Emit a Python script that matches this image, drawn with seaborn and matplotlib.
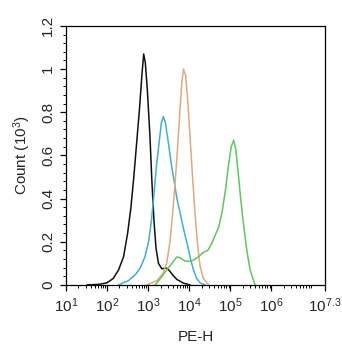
import numpy as np
import pandas as pd
import matplotlib
matplotlib.use("Agg")
import matplotlib.pyplot as plt
import seaborn as sns
from matplotlib.ticker import FixedLocator, LogLocator, NullFormatter

# ---- data (x as log10 of PE-H, y as count / 1000) ----
black_logx = [1.51, 1.83, 2.0, 2.15, 2.28, 2.40, 2.50, 2.58, 2.65, 2.72, 2.79, 2.85, 2.89, 2.93, 2.98, 3.04, 3.09, 3.14, 3.19, 3.25, 3.33, 3.45, 3.52, 3.60, 3.70, 3.86, 4.02]
black_count = [0.0, 0.003, 0.01, 0.03, 0.07, 0.13, 0.24, 0.36, 0.5, 0.66, 0.82, 0.98, 1.07, 1.03, 0.9, 0.7, 0.48, 0.3, 0.17, 0.1, 0.075, 0.078, 0.065, 0.045, 0.025, 0.008, 0.0]

cyan_logx = [2.28, 2.52, 2.70, 2.81, 2.92, 3.01, 3.08, 3.14, 3.20, 3.26, 3.32, 3.37, 3.42, 3.49, 3.57, 3.64, 3.70, 3.78, 3.86, 3.95, 4.03, 4.10, 4.18, 4.26, 4.38]
cyan_count = [0.0, 0.02, 0.05, 0.08, 0.13, 0.2, 0.3, 0.42, 0.55, 0.65, 0.75, 0.78, 0.75, 0.66, 0.55, 0.47, 0.4, 0.33, 0.26, 0.19, 0.12, 0.07, 0.03, 0.01, 0.0]

orange_logx = [2.97, 3.21, 3.35, 3.45, 3.53, 3.59, 3.65, 3.71, 3.77, 3.82, 3.86, 3.91, 3.96, 4.02, 4.08, 4.14, 4.20, 4.26, 4.34, 4.47]
orange_count = [0.0, 0.02, 0.05, 0.1, 0.2, 0.32, 0.46, 0.62, 0.8, 0.94, 1.0, 0.97, 0.86, 0.68, 0.5, 0.33, 0.19, 0.09, 0.03, 0.0]

green_logx = [3.17, 3.30, 3.45, 3.58, 3.70, 3.78, 3.90, 4.02, 4.10, 4.22, 4.34, 4.45, 4.54, 4.63, 4.72, 4.80, 4.88, 4.95, 5.02, 5.08, 5.13, 5.19, 5.25, 5.32, 5.40, 5.48, 5.60]
green_count = [0.0, 0.03, 0.07, 0.1, 0.13, 0.125, 0.11, 0.11, 0.115, 0.13, 0.15, 0.16, 0.19, 0.23, 0.27, 0.34, 0.44, 0.55, 0.64, 0.67, 0.63, 0.52, 0.4, 0.28, 0.16, 0.07, 0.0]

x_exponents = [1, 2, 3, 4, 5, 6, 7.3]
x_ticklabels = ["$10^{1}$", "$10^{2}$", "$10^{3}$", "$10^{4}$", "$10^{5}$", "$10^{6}$", "$10^{7.3}$"]
y_ticks = [0, 0.2, 0.4, 0.6, 0.8, 1.0, 1.2]
y_ticklabels = ["0", "0.2", "0.4", "0.6", "0.8", "1", "1.2"]

curves = [
    (black_logx, black_count, "#111111"),
    (cyan_logx, cyan_count, "#3fb0d2"),
    (orange_logx, orange_count, "#e3a97c"),
    (green_logx, green_count, "#5acb5a"),
]

sns.set_style("ticks")
plt.rcParams["font.family"] = ["Liberation Sans", "DejaVu Sans"]
plt.rcParams["mathtext.fontset"] = "custom"
plt.rcParams["mathtext.rm"] = "Liberation Sans"
plt.rcParams["mathtext.it"] = "Liberation Sans"

fig = plt.figure(figsize=(3.42, 3.5), dpi=100)
ax = fig.add_axes([0.193, 0.186, 0.757, 0.740])

for lx, cnt, col in curves:
    df = pd.DataFrame({"PE-H": np.power(10.0, lx), "count": cnt})
    sns.lineplot(data=df, x="PE-H", y="count", color=col, lw=1.1, sort=False, ax=ax)

ax.set_xscale("log")
ax.set_xlim(10 ** 1, 10 ** 7.3)
ax.set_ylim(0, 1.2)

ax.xaxis.set_major_locator(FixedLocator([10 ** e for e in x_exponents]))
ax.set_xticklabels(x_ticklabels, fontsize=11)
ax.xaxis.set_minor_locator(LogLocator(base=10, subs=np.arange(2, 10), numticks=20))
ax.xaxis.set_minor_formatter(NullFormatter())

ax.set_yticks(y_ticks)
ax.set_yticklabels(y_ticklabels, fontsize=11, rotation=90, va="center")
ax.set_yticks(np.arange(0, 1.2001, 0.04), minor=True)

ax.tick_params(which="major", length=4, width=0.9, color="black", pad=4)
ax.tick_params(which="minor", length=2.2, width=0.7, color="black")
for s in ax.spines.values():
    s.set_linewidth(0.9)
    s.set_color("black")

ax.set_xlabel("PE-H", fontsize=11, labelpad=11)
ax.set_ylabel("Count ($10^{3}$)", fontsize=11, labelpad=6)

fig.savefig("out.png", dpi=100)
